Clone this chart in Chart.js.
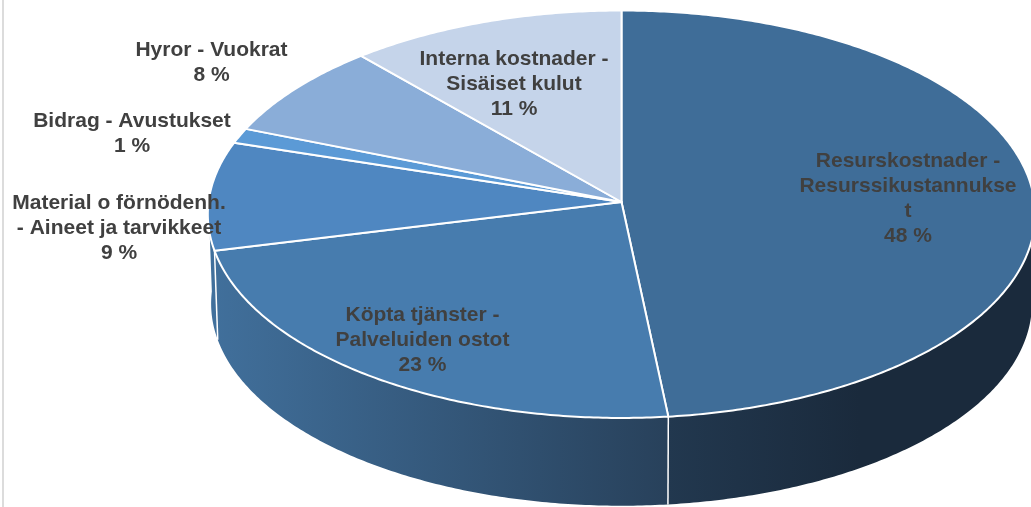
<!DOCTYPE html>
<html lang="sv">
<head>
<meta charset="utf-8">
<title>Kostnader</title>
<script src="https://cdn.jsdelivr.net/npm/chart.js@4"></script>
<style>
html,body{margin:0;padding:0;background:#fff;overflow:hidden}
canvas{display:block}
</style>
</head>
<body>
<canvas id="c" width="1031" height="507"></canvas>
<script>
const categories = [
  ["Resurskostnader -", "Resurssikustannukse", "t"],
  ["Köpta tjänster -", "Palveluiden ostot"],
  ["Material o förnödenh.", "- Aineet ja tarvikkeet"],
  ["Bidrag - Avustukset"],
  ["Hyror - Vuokrat"],
  ["Interna kostnader -", "Sisäiset kulut"]
];
const values = [48.3, 22.9, 8.6, 1.2, 7.55, 11.45];
const topColors = ["#3f6d98", "#477cae", "#4f87c1", "#5b9ad6", "#8aadd8", "#c5d4ea"];
const sideStops = [
  ["#22384f", "#1a2a3c"], ["#41709c", "#28415b"], ["#41709c", "#3f6c98"],
  ["#41709c", "#41709c"], ["#41709c", "#41709c"], ["#41709c", "#41709c"]
];
const labelCentersX = [908, 422.5, 119, 132, 211.5, 514];
const labelTopLineY = [161.5, 315.5, 203.5, 121.5, 50, 59.5];
const LINE_H = 24.9;

const STRETCH_X = 415 / 202, STRETCH_Y = 204 / 202, PERSP = 0.06, DEPTH = 89.5, BOTTOM_SHRINK = 0.992;

function project(arc, theta, lower) {
  const u = Math.cos(theta), v = Math.sin(theta), w = 1 - PERSP * v;
  const R = arc.outerRadius, s = lower ? BOTTOM_SHRINK : 1;
  return [arc.x + R * STRETCH_X * s * u / w, arc.y + R * STRETCH_Y * s * v / w + (lower ? DEPTH : 0)];
}
function trace(ctx, arc, a, b, lower) {
  const n = Math.max(2, Math.ceil(Math.abs(b - a) / 0.01));
  for (let i = 0; i <= n; i++) {
    const p = project(arc, a + (b - a) * i / n, lower);
    ctx.lineTo(p[0], p[1]);
  }
}

const pie3d = {
  id: "pie3d",
  beforeDraw(chart) {
    const ctx = chart.ctx;
    ctx.save();
    ctx.fillStyle = "#dcdcdc";
    ctx.fillRect(2, 0, 2, chart.height);
    ctx.restore();
  },
  beforeDatasetDraw(chart, args) {
    const ctx = chart.ctx, arcs = args.meta.data;
    ctx.save();
    ctx.lineJoin = "round";
    // side wall, visible for the near half of the ring
    arcs.forEach((arc, i) => {
      const a = Math.max(arc.startAngle, 0), b = Math.min(arc.endAngle, Math.PI);
      if (b <= a) return;
      const g = ctx.createLinearGradient(i === 0 ? 667 : 208, 0, i === 0 ? 860 : 667, 0);
      g.addColorStop(0, sideStops[i][0]);
      g.addColorStop(1, sideStops[i][1]);
      ctx.beginPath();
      trace(ctx, arc, a, b, false);
      trace(ctx, arc, b, a, true);
      ctx.closePath();
      ctx.fillStyle = g;
      ctx.fill();
    });
    // white edges where slices meet on the wall
    ctx.strokeStyle = "#fff";
    ctx.lineWidth = 1.5;
    arcs.forEach(arc => {
      if (arc.endAngle > 0 && arc.endAngle < Math.PI) {
        const p = project(arc, arc.endAngle, false), q = project(arc, arc.endAngle, true);
        ctx.beginPath(); ctx.moveTo(p[0], p[1]); ctx.lineTo(q[0], q[1]); ctx.stroke();
      }
    });
    // top face
    arcs.forEach(arc => {
      ctx.beginPath();
      ctx.moveTo(arc.x, arc.y);
      trace(ctx, arc, arc.startAngle, arc.endAngle, false);
      ctx.closePath();
      ctx.fillStyle = arc.options.backgroundColor;
      ctx.fill();
      ctx.strokeStyle = arc.options.borderColor;
      ctx.lineWidth = 2;
      ctx.stroke();
    });
    ctx.restore();
    return false;
  },
  afterDatasetsDraw(chart) {
    const ctx = chart.ctx, data = chart.data.datasets[0].data;
    const sum = data.reduce((s, x) => s + x, 0);
    ctx.save();
    ctx.font = "bold 21px 'Liberation Sans', Arial, sans-serif";
    ctx.fillStyle = "#404040";
    ctx.textAlign = "center";
    ctx.textBaseline = "middle";
    chart.data.labels.forEach((lines, i) => {
      const all = lines.concat(Math.round(data[i] / sum * 100) + " %");
      all.forEach((t, k) => ctx.fillText(t, labelCentersX[i], labelTopLineY[i] + k * LINE_H));
    });
    ctx.restore();
  }
};

new Chart(document.getElementById("c"), {
  type: "pie",
  data: {
    labels: categories,
    datasets: [{ data: values, backgroundColor: topColors, borderColor: "#ffffff", borderWidth: 2 }]
  },
  options: {
    responsive: false,
    animation: false,
    layout: { padding: { left: 212, right: 0, top: 0, bottom: 103 } },
    plugins: { legend: { display: false }, tooltip: { enabled: false } }
  },
  plugins: [pie3d]
});
</script>
</body>
</html>
